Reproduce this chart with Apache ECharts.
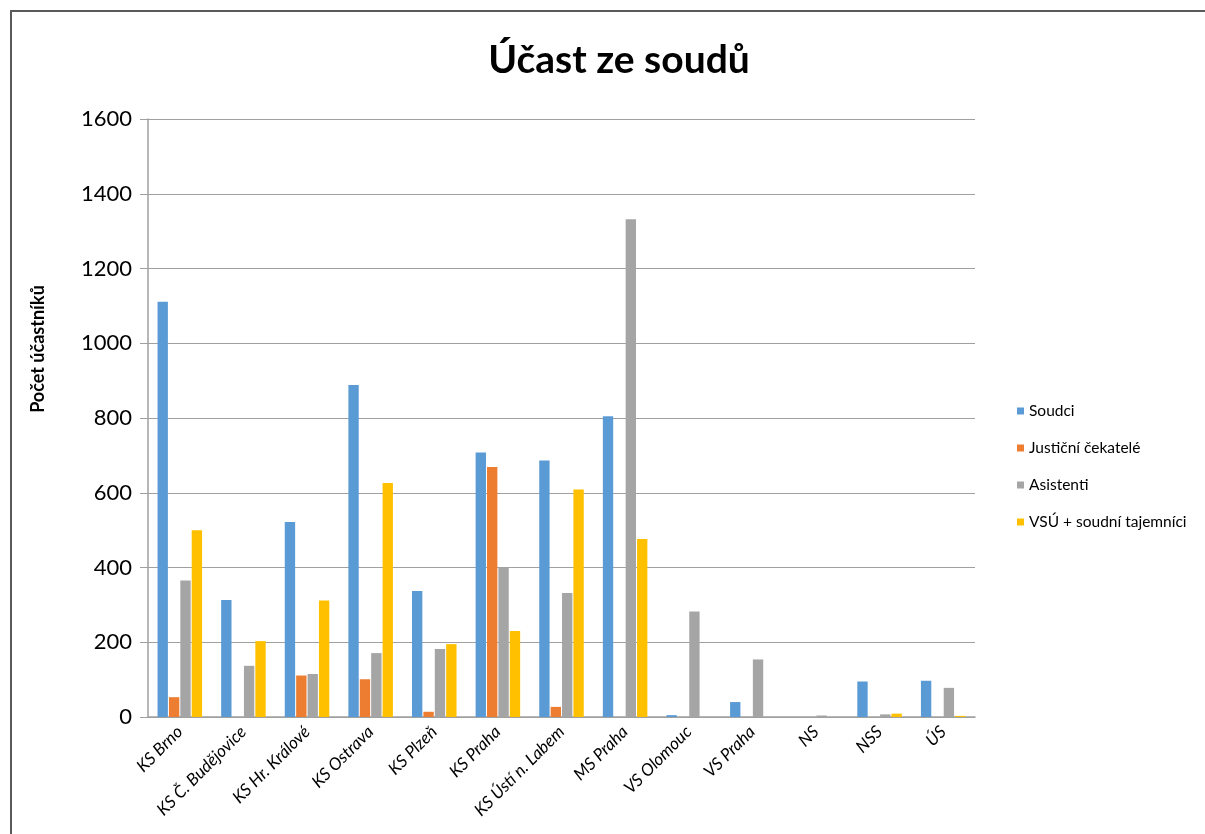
<!DOCTYPE html>
<html>
<head>
<meta charset="utf-8">
<title>Účast ze soudů</title>
    <style>
        * {
            margin: 0;
            padding: 0;
        }
        body {
            background: #fff;
        }
        #frame {
            position: absolute;
            left: 10px;
            top: 10px;
            width: 1300px;
            height: 900px;
            border-left: 2px solid #5a5a5a;
            border-top: 2px solid #5a5a5a;
        }
        #main {
            position: absolute;
            left: 0;
            top: 0;
            width: 1205px;
            height: 834px;
        }
    </style>
</head>
<body>
<div id="frame"></div>
<div id="main"></div>
<script src="https://cdn.jsdelivr.net/npm/echarts@6/dist/echarts.min.js"></script>
<script>
    var courts = ['KS Brno', 'KS Č. Budějovice', 'KS Hr. Králové', 'KS Ostrava', 'KS Plzeň', 'KS Praha',
        'KS Ústí n. Labem', 'MS Praha', 'VS Olomouc', 'VS Praha', 'NS', 'NSS', 'ÚS'];
    var soudci = [1111, 313, 522, 888, 337, 708, 686, 805, 5, 40, 0, 95, 97];
    var cekatele = [53, 0, 111, 101, 14, 669, 27, 0, 0, 0, 0, 0, 0];
    var asistenti = [365, 137, 115, 171, 182, 401, 332, 1332, 282, 154, 4, 7, 78];
    var vsu = [500, 203, 312, 626, 195, 230, 609, 476, 0, 0, 0, 9, 3];
    var yTicks = [0, 200, 400, 600, 800, 1000, 1200, 1400, 1600];

    var font = 'Lato, "Open Sans", sans-serif';
    var myChart = echarts.init(document.getElementById('main'));

    function bar(name, data, color) {
        return {
            name: name,
            type: 'bar',
            data: data,
            barGap: '10%',
            barCategoryGap: '30%',
            itemStyle: {color: color},
            emphasis: {disabled: true}
        };
    }

    var option = {
        animation: false,
        color: ['#5B9BD5', '#ED7D31', '#A5A5A5', '#FFC000'],
        title: {
            text: 'Účast ze soudů',
            left: 614,
            textAlign: 'center',
            top: 36,
            textStyle: {fontFamily: font, fontSize: 39, fontWeight: 'bold', color: '#000'}
        },
        legend: {
            orient: 'vertical',
            left: 1012,
            top: 398,
            itemWidth: 7,
            itemHeight: 7,
            itemGap: 21,
            icon: 'rect',
            textStyle: {fontFamily: font, fontSize: 15.5, color: '#000'},
            data: ['Soudci', 'Justiční čekatelé', 'Asistenti', 'VSÚ + soudní tajemníci']
        },
        graphic: [{
            type: 'text',
            x: 29,
            y: 349,
            rotation: Math.PI / 2,
            style: {
                text: 'Počet účastníků',
                fontFamily: font,
                fontSize: 18,
                fontWeight: 'bold',
                fill: '#000',
                align: 'center',
                verticalAlign: 'top'
            }
        }],
        grid: {left: 148, right: 230, top: 119, bottom: 117},
        xAxis: {
            type: 'category',
            data: courts,
            axisLine: {lineStyle: {color: '#a0a0a0', width: 1.5}},
            axisTick: {show: false},
            axisLabel: {
                interval: 0,
                rotate: 45,
                margin: 12,
                fontFamily: font,
                fontStyle: 'italic',
                fontSize: 17,
                color: '#000'
            }
        },
        yAxis: {
            type: 'value',
            min: yTicks[0],
            max: yTicks[yTicks.length - 1],
            interval: 200,
            axisLine: {show: true, lineStyle: {color: '#a0a0a0', width: 1.5}},
            axisTick: {show: true, length: 8, lineStyle: {color: '#a0a0a0'}},
            axisLabel: {fontFamily: font, fontSize: 22, color: '#000', margin: 16,
                formatter: function (v) { return String(v); }},
            splitLine: {lineStyle: {color: '#a0a0a0', width: 1.2}}
        },
        series: [
            bar('Soudci', soudci, '#5B9BD5'),
            bar('Justiční čekatelé', cekatele, '#ED7D31'),
            bar('Asistenti', asistenti, '#A5A5A5'),
            bar('VSÚ + soudní tajemníci', vsu, '#FFC000')
        ]
    };
    myChart.setOption(option);
</script>
</body>
</html>
